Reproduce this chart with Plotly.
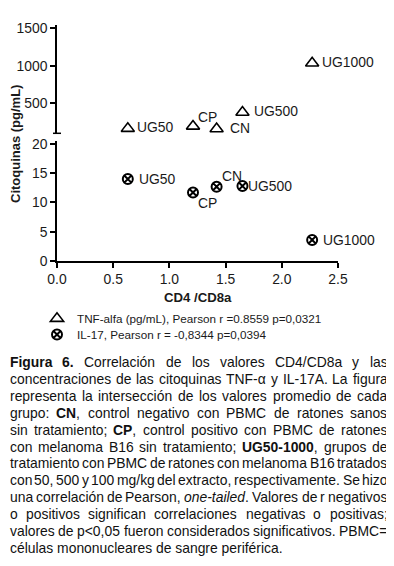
import plotly.graph_objects as go

# ---------------- data ----------------
groups = ["CN", "CP", "UG50", "UG500", "UG1000"]
cd4_cd8 = [1.42, 1.21, 0.63, 1.65, 2.27]
tnf_alfa = [160, 195, 165, 380, 1035]
il17 = [12.7, 11.7, 14.0, 12.8, 3.6]
x_ticks = [0.0, 0.5, 1.0, 1.5, 2.0, 2.5]
y_lower_ticks = [0, 5, 10, 15, 20]
y_upper_ticks = [500, 1000, 1500]
tnf_name = "TNF-alfa (pg/mL), Pearson r =0.8559 p=0,0321"
il17_name = "IL-17, Pearson r = -0,8344 p=0,0394"
x_title = "CD4 /CD8a"
y_title = "Citoquinas (pg/mL)"

caption_lines = [
    "<b>Figura</b> <b>6.</b> Correlación de los valores CD4/CD8a y las",
    "concentraciones de las citoquinas TNF-α y IL-17A. La figura",
    "representa la intersección de los valores promedio de cada",
    "grupo: <b>CN</b>, control negativo con PBMC de ratones sanos",
    "sin tratamiento; <b>CP</b>, control positivo con PBMC de ratones",
    "con melanoma B16 sin tratamiento; <b>UG50-1000</b>, grupos de",
    "tratamiento con PBMC de ratones con melanoma B16 tratados",
    "con 50, 500 y 100 mg/kg del extracto, respectivamente. Se hizo",
    "una correlación de Pearson, <i>one-tailed</i>. Valores de r negativos",
    "o positivos significan correlaciones negativas o positivas;",
    "valores de p&lt;0,05 fueron considerados significativos. PBMC=",
    "células mononucleares de sangre periférica.",
]

# label offsets in pixels (dx, dy)
tnf_label_shift = {"CN": (12, 1), "CP": (4, 9), "UG50": (8, 1), "UG500": (11, 1), "UG1000": (9, 1)}
il17_label_shift = {"CN": (4, 11), "CP": (4, -10), "UG50": (10, 0), "UG500": (5, 0), "UG1000": (10, 0)}

# ---------------- layout geometry ----------------
# page body has an 8px margin; figure is sized to the visible area
OFF = 8
W, H = 394 - OFF, 566 - OFF
ML, MT = 57 - OFF, 25 - OFF
PW, PH = 281, 236
MR = W - ML - PW
MB = H - MT - PH
BOTTOM = 261  # page-pixel y of plot bottom
FONT = "Liberation Sans, Arial, sans-serif"
TXT = "#1a1a1a"


def px_to_paper_x(px):
    return (px - OFF - ML) / PW


def px_to_paper_y(py):
    return (BOTTOM - py) / PH


# Arial-compatible glyph widths (per 1000 em)
REG = {' ': 278, ',': 278, '.': 278, ':': 278, ';': 278, '-': 333, '/': 278, '<': 584, '=': 584,
       '(': 333, ')': 333, 'α': 578}
for c in "0123456789":
    REG[c] = 556
REG.update(dict(A=667, B=667, C=722, D=722, E=667, F=611, G=778, H=722, I=278, J=500, K=667, L=556,
                M=833, N=722, O=778, P=667, Q=778, R=722, S=667, T=611, U=722, V=667, W=944, X=667,
                Y=667, Z=611))
REG.update(dict(a=556, b=556, c=500, d=556, e=556, f=278, g=556, h=556, i=222, j=222, k=500, l=222,
                m=833, n=556, o=556, p=556, q=556, r=333, s=500, t=278, u=556, v=500, w=722, x=500,
                y=500, z=500))
REG.update({'á': 556, 'é': 556, 'í': 278, 'ó': 556, 'ú': 556, 'ñ': 556})
BOLD = dict(REG)
BOLD.update({':': 333, ';': 333})
BOLD.update(dict(A=722, B=722, F=611, G=778, N=722, P=667, U=722))
BOLD.update(dict(a=556, b=611, c=556, d=611, e=556, f=333, g=611, h=611, i=278, j=278, k=556, l=278,
                 m=889, n=611, o=611, p=611, q=611, r=389, s=556, t=333, u=611, v=556, w=778, x=556,
                 y=556, z=500))


def text_width(s, size):
    bold = False
    tot = 0
    i = 0
    while i < len(s):
        if s.startswith("<b>", i):
            bold = True; i += 3; continue
        if s.startswith("</b>", i):
            bold = False; i += 4; continue
        if s.startswith("<i>", i):
            i += 3; continue
        if s.startswith("</i>", i):
            i += 4; continue
        if s.startswith("&lt;", i):
            tot += 584; i += 4; continue
        ch = s[i]
        tot += (BOLD if bold else REG).get(ch, 556)
        i += 1
    return tot * size / 1000.0


fig = go.Figure()

fig.add_trace(go.Scatter(
    x=cd4_cd8, y=tnf_alfa, xaxis="x", yaxis="y2", mode="markers", name=tnf_name, legend="legend",
    marker=dict(symbol="triangle-up-open", size=11.5, color="black", line=dict(width=1.6, color="black")),
))
fig.add_trace(go.Scatter(
    x=cd4_cd8, y=il17, xaxis="x", yaxis="y", mode="markers", name=il17_name, legend="legend2",
    marker=dict(symbol="circle-x", size=10, color="white", line=dict(width=2, color="black")),
))

annotations = []
# data labels
for g, xv, yv in zip(groups, cd4_cd8, tnf_alfa):
    dx, dy = tnf_label_shift[g]
    annotations.append(dict(x=xv, y=yv, xref="x", yref="y2", text=g, showarrow=False,
                            xanchor="left", yanchor="middle", xshift=dx, yshift=dy, borderpad=0,
                            font=dict(family=FONT, size=13.9, color=TXT)))
for g, xv, yv in zip(groups, cd4_cd8, il17):
    dx, dy = il17_label_shift[g]
    annotations.append(dict(x=xv, y=yv, xref="x", yref="y", text=g, showarrow=False,
                            xanchor="left", yanchor="middle", xshift=dx, yshift=dy, borderpad=0,
                            font=dict(family=FONT, size=13.9, color=TXT)))

# axis titles
annotations.append(dict(x=px_to_paper_x(15), y=px_to_paper_y(144), xref="paper", yref="paper",
                        text="<b>" + y_title + "</b>", textangle=-90, showarrow=False,
                        xanchor="center", yanchor="middle", borderpad=0,
                        font=dict(family=FONT, size=13, color=TXT)))
annotations.append(dict(x=0.5, y=px_to_paper_y(297), xref="paper", yref="paper",
                        text="<b>" + x_title + "</b>", showarrow=False,
                        xanchor="center", yanchor="middle", borderpad=0,
                        font=dict(family=FONT, size=13.2, color=TXT)))

# caption (justified)
CAP_SIZE = 13.9
CAP_L, CAP_R = 8.5, 386.5
CAP_TOP, CAP_STEP = 362, 16.9
for i, line in enumerate(caption_lines):
    py = CAP_TOP + i * CAP_STEP
    yp = px_to_paper_y(py)
    if i == len(caption_lines) - 1:
        annotations.append(dict(x=px_to_paper_x(CAP_L), y=yp, xref="paper", yref="paper", text=line,
                                showarrow=False, xanchor="left", yanchor="middle", borderpad=0,
                                font=dict(family=FONT, size=CAP_SIZE, color="#111111")))
        continue
    words = line.split(" ")
    widths = [text_width(w, CAP_SIZE) for w in words]
    gap = (CAP_R - CAP_L - sum(widths)) / (len(words) - 1)
    xcur = CAP_L
    for w, wd in zip(words, widths):
        annotations.append(dict(x=px_to_paper_x(xcur), y=yp, xref="paper", yref="paper", text=w,
                                showarrow=False, xanchor="left", yanchor="middle", borderpad=0,
                                font=dict(family=FONT, size=CAP_SIZE, color="#111111")))
        xcur += wd + gap

axis_common = dict(showline=True, linecolor="black", linewidth=1.5, ticks="outside", ticklen=5,
                   tickwidth=1.5, tickcolor="black", showgrid=False, zeroline=False,
                   tickfont=dict(family=FONT, size=13.9, color=TXT))

legend_common = dict(xanchor="left", yanchor="top", font=dict(family=FONT, size=11.7, color=TXT),
                     bgcolor="rgba(0,0,0,0)", tracegroupgap=0)

fig.update_layout(
    width=W, height=H,
    margin=dict(l=ML, r=MR, t=MT, b=MB, autoexpand=False),
    paper_bgcolor="white", plot_bgcolor="white",
    font=dict(family=FONT, color=TXT),
    xaxis=dict(domain=[0, 1], range=[0, 2.5], anchor="y", tickvals=x_ticks, tickformat=".1f",
               **axis_common),
    yaxis=dict(domain=[0, (BOTTOM - 140.7) / PH], range=[0, 20.56], anchor="x", tickvals=y_lower_ticks,
               **axis_common),
    yaxis2=dict(domain=[(BOTTOM - 133.3) / PH, 1], range=[101, 1541], anchor="x", tickvals=y_upper_ticks,
                **axis_common),
    showlegend=True,
    legend=dict(x=px_to_paper_x(37), y=px_to_paper_y(304), **legend_common),
    legend2=dict(x=px_to_paper_x(37), y=px_to_paper_y(320), **legend_common),
    annotations=annotations,
    shapes=[dict(type="line", xref="paper", yref="y2 domain", x0=-4 / PW, x1=4 / PW, y0=0, y1=0,
                 line=dict(color="black", width=1.5))],
)

fig.write_html("out.html")
